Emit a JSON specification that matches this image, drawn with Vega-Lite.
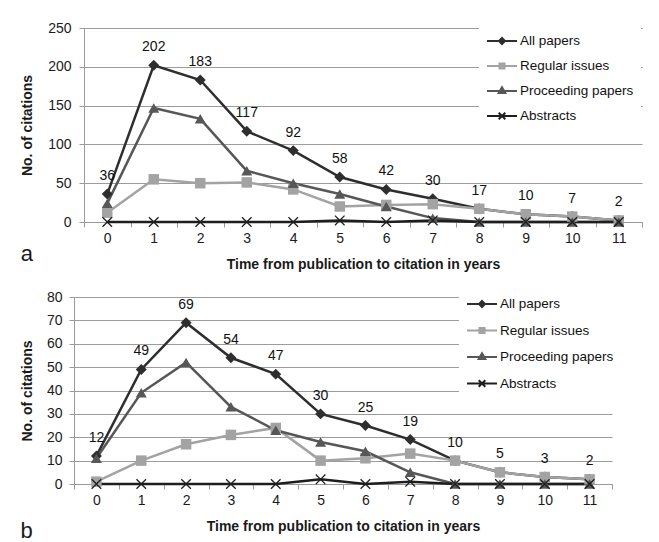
{
  "$schema": "https://vega.github.io/schema/vega-lite/v6.json",
  "padding": {"left": 20, "top": 18, "right": 0, "bottom": 0},
  "spacing": 10,
  "columns": 1,
  "align": "none",
  "background": "white",
  "resolve": {"scale": {"color": "independent"}, "legend": {"color": "independent"}},
  "config": {
    "font": "Liberation Sans",
    "view": {"stroke": null},
    "axis": {"labelFont": "Liberation Sans", "titleFont": "Liberation Sans", "labelFontSize": 14, "titleFontSize": 14, "labelColor": "#1a1a1a", "titleColor": "#1a1a1a", "titleFontWeight": "bold", "domainColor": "#9a9a9a", "tickColor": "#9a9a9a", "gridColor": "#9c9c9c", "tickSize": 5},
    "legend": {"labelFont": "Liberation Sans"}
  },
  "datasets": {
    "a": [
      {"year": 0, "series": "All papers", "citations": 36},
      {"year": 1, "series": "All papers", "citations": 202},
      {"year": 2, "series": "All papers", "citations": 183},
      {"year": 3, "series": "All papers", "citations": 117},
      {"year": 4, "series": "All papers", "citations": 92},
      {"year": 5, "series": "All papers", "citations": 58},
      {"year": 6, "series": "All papers", "citations": 42},
      {"year": 7, "series": "All papers", "citations": 30},
      {"year": 8, "series": "All papers", "citations": 17},
      {"year": 9, "series": "All papers", "citations": 10},
      {"year": 10, "series": "All papers", "citations": 7},
      {"year": 11, "series": "All papers", "citations": 2},
      {"year": 0, "series": "Regular issues", "citations": 12},
      {"year": 1, "series": "Regular issues", "citations": 55},
      {"year": 2, "series": "Regular issues", "citations": 50},
      {"year": 3, "series": "Regular issues", "citations": 51},
      {"year": 4, "series": "Regular issues", "citations": 42},
      {"year": 5, "series": "Regular issues", "citations": 20},
      {"year": 6, "series": "Regular issues", "citations": 22},
      {"year": 7, "series": "Regular issues", "citations": 23},
      {"year": 8, "series": "Regular issues", "citations": 17},
      {"year": 9, "series": "Regular issues", "citations": 10},
      {"year": 10, "series": "Regular issues", "citations": 7},
      {"year": 11, "series": "Regular issues", "citations": 2},
      {"year": 0, "series": "Proceeding papers", "citations": 24},
      {"year": 1, "series": "Proceeding papers", "citations": 147},
      {"year": 2, "series": "Proceeding papers", "citations": 133},
      {"year": 3, "series": "Proceeding papers", "citations": 66},
      {"year": 4, "series": "Proceeding papers", "citations": 50},
      {"year": 5, "series": "Proceeding papers", "citations": 36},
      {"year": 6, "series": "Proceeding papers", "citations": 20},
      {"year": 7, "series": "Proceeding papers", "citations": 5},
      {"year": 8, "series": "Proceeding papers", "citations": 0},
      {"year": 9, "series": "Proceeding papers", "citations": 0},
      {"year": 10, "series": "Proceeding papers", "citations": 0},
      {"year": 11, "series": "Proceeding papers", "citations": 0},
      {"year": 0, "series": "Abstracts", "citations": 0},
      {"year": 1, "series": "Abstracts", "citations": 0},
      {"year": 2, "series": "Abstracts", "citations": 0},
      {"year": 3, "series": "Abstracts", "citations": 0},
      {"year": 4, "series": "Abstracts", "citations": 0},
      {"year": 5, "series": "Abstracts", "citations": 2},
      {"year": 6, "series": "Abstracts", "citations": 0},
      {"year": 7, "series": "Abstracts", "citations": 2},
      {"year": 8, "series": "Abstracts", "citations": 0},
      {"year": 9, "series": "Abstracts", "citations": 0},
      {"year": 10, "series": "Abstracts", "citations": 0},
      {"year": 11, "series": "Abstracts", "citations": 0}
    ],
    "b": [
      {"year": 0, "series": "All papers", "citations": 12},
      {"year": 1, "series": "All papers", "citations": 49},
      {"year": 2, "series": "All papers", "citations": 69},
      {"year": 3, "series": "All papers", "citations": 54},
      {"year": 4, "series": "All papers", "citations": 47},
      {"year": 5, "series": "All papers", "citations": 30},
      {"year": 6, "series": "All papers", "citations": 25},
      {"year": 7, "series": "All papers", "citations": 19},
      {"year": 8, "series": "All papers", "citations": 10},
      {"year": 9, "series": "All papers", "citations": 5},
      {"year": 10, "series": "All papers", "citations": 3},
      {"year": 11, "series": "All papers", "citations": 2},
      {"year": 0, "series": "Regular issues", "citations": 1},
      {"year": 1, "series": "Regular issues", "citations": 10},
      {"year": 2, "series": "Regular issues", "citations": 17},
      {"year": 3, "series": "Regular issues", "citations": 21},
      {"year": 4, "series": "Regular issues", "citations": 24},
      {"year": 5, "series": "Regular issues", "citations": 10},
      {"year": 6, "series": "Regular issues", "citations": 11},
      {"year": 7, "series": "Regular issues", "citations": 13},
      {"year": 8, "series": "Regular issues", "citations": 10},
      {"year": 9, "series": "Regular issues", "citations": 5},
      {"year": 10, "series": "Regular issues", "citations": 3},
      {"year": 11, "series": "Regular issues", "citations": 2},
      {"year": 0, "series": "Proceeding papers", "citations": 11},
      {"year": 1, "series": "Proceeding papers", "citations": 39},
      {"year": 2, "series": "Proceeding papers", "citations": 52},
      {"year": 3, "series": "Proceeding papers", "citations": 33},
      {"year": 4, "series": "Proceeding papers", "citations": 23},
      {"year": 5, "series": "Proceeding papers", "citations": 18},
      {"year": 6, "series": "Proceeding papers", "citations": 14},
      {"year": 7, "series": "Proceeding papers", "citations": 5},
      {"year": 8, "series": "Proceeding papers", "citations": 0},
      {"year": 9, "series": "Proceeding papers", "citations": 0},
      {"year": 10, "series": "Proceeding papers", "citations": 0},
      {"year": 11, "series": "Proceeding papers", "citations": 0},
      {"year": 0, "series": "Abstracts", "citations": 0},
      {"year": 1, "series": "Abstracts", "citations": 0},
      {"year": 2, "series": "Abstracts", "citations": 0},
      {"year": 3, "series": "Abstracts", "citations": 0},
      {"year": 4, "series": "Abstracts", "citations": 0},
      {"year": 5, "series": "Abstracts", "citations": 2},
      {"year": 6, "series": "Abstracts", "citations": 0},
      {"year": 7, "series": "Abstracts", "citations": 1},
      {"year": 8, "series": "Abstracts", "citations": 0},
      {"year": 9, "series": "Abstracts", "citations": 0},
      {"year": 10, "series": "Abstracts", "citations": 0},
      {"year": 11, "series": "Abstracts", "citations": 0}
    ]
  },
  "concat": [
    {
      "width": 558,
      "height": 194,
      "data": {"name": "a"},
      "title": {"text": "a", "orient": "bottom", "anchor": "start", "frame": "bounds", "fontSize": 22, "fontWeight": "normal", "color": "#1a1a1a", "dx": 0, "dy": -27, "offset": 0},
      "encoding": {
        "x": {"field": "year", "type": "ordinal", "scale": {"type": "band", "paddingInner": 0, "paddingOuter": 0},
              "axis": {"title": "Time from publication to citation in years", "labelAngle": 0, "tickBand": "extent", "grid": false, "labelPadding": 4, "titlePadding": 12}},
        "y": {"field": "citations", "type": "quantitative", "scale": {"domain": [0, 250]},
              "axis": {"title": "No. of citations", "values": [0, 50, 100, 150, 200, 250], "grid": true, "labelPadding": 8, "titlePadding": 13}}
      },
      "layer": [
        {"mark": {"type": "line", "strokeWidth": 2.5},
         "encoding": {"color": {"field": "series", "type": "nominal",
           "scale": {"domain": ["All papers", "Regular issues", "Proceeding papers", "Abstracts"], "range": ["#2e2e2e", "#a3a3a3", "#575757", "#1e1e1e"]},
           "legend": {"orient": "none", "legendX": 395, "legendY": -10, "title": null, "fillColor": "white", "padding": 7, "symbolSize": 900, "labelFontSize": 13.5, "labelColor": "#111111", "labelOffset": 2, "rowPadding": 2,
             "encode": {"symbols": {"update": {
               "shape": {"signal": "datum.value === 'All papers' ? 'M-1,0H1M0,-0.2L0.2,0L0,0.2L-0.2,0Z' : datum.value === 'Regular issues' ? 'M-1,0H1M-0.17,-0.17H0.17V0.17H-0.17Z' : datum.value === 'Proceeding papers' ? 'M-1,0H1M0,-0.25L0.22,0.13H-0.22Z' : 'M-1,0H1M-0.22,-0.22L0.22,0.22M-0.22,0.22L0.22,-0.22'"},
               "fill": {"signal": "datum.value === 'All papers' ? '#2e2e2e' : datum.value === 'Regular issues' ? '#a3a3a3' : datum.value === 'Proceeding papers' ? '#575757' : '#1e1e1e'"},
               "stroke": {"signal": "datum.value === 'All papers' ? '#2e2e2e' : datum.value === 'Regular issues' ? '#a3a3a3' : datum.value === 'Proceeding papers' ? '#575757' : '#1e1e1e'"},
               "strokeWidth": {"value": 2},
               "size": {"value": 900},
               "opacity": {"value": 1},
               "fillOpacity": {"value": 1},
               "strokeOpacity": {"value": 1}}}}}}}},
        {"transform": [{"filter": "datum.series === 'All papers'"}],
         "mark": {"type": "point", "filled": true, "opacity": 1, "shape": "diamond", "size": 120, "color": "#2e2e2e"}},
        {"transform": [{"filter": "datum.series === 'Regular issues'"}],
         "mark": {"type": "point", "filled": true, "opacity": 1, "shape": "square", "size": 110, "color": "#a3a3a3"}},
        {"transform": [{"filter": "datum.series === 'Proceeding papers'"}],
         "mark": {"type": "point", "filled": true, "opacity": 1, "shape": "triangle-up", "size": 120, "color": "#575757"}},
        {"transform": [{"filter": "datum.series === 'Abstracts'"}],
         "mark": {"type": "point", "filled": true, "opacity": 1, "shape": "M-1,-0.83L-0.83,-1L0,-0.17L0.83,-1L1,-0.83L0.17,0L1,0.83L0.83,1L0,0.17L-0.83,1L-1,0.83L-0.17,0Z", "size": 110, "color": "#1e1e1e"}},
        {"transform": [{"filter": "datum.series === 'All papers'"}],
         "mark": {"type": "text", "dy": -18, "fontSize": 14, "color": "#111111"},
         "encoding": {"text": {"field": "citations", "type": "quantitative"}}}
      ]
    },
    {
      "width": 538,
      "height": 187,
      "data": {"name": "b"},
      "title": {"text": "b", "orient": "bottom", "anchor": "start", "frame": "bounds", "fontSize": 22, "fontWeight": "normal", "color": "#1a1a1a", "dx": 0, "dy": -12, "offset": 0},
      "encoding": {
        "x": {"field": "year", "type": "ordinal", "scale": {"type": "band", "paddingInner": 0, "paddingOuter": 0, "range": [-10, 528]},
              "axis": {"title": "Time from publication to citation in years", "labelAngle": 0, "tickBand": "extent", "grid": false, "labelPadding": 4, "titlePadding": 12}},
        "y": {"field": "citations", "type": "quantitative", "scale": {"domain": [0, 80]},
              "axis": {"title": "No. of citations", "values": [0, 10, 20, 30, 40, 50, 60, 70, 80], "grid": true, "labelPadding": 7, "titlePadding": 12, "offset": 10}}
      },
      "layer": [
        {"mark": {"type": "line", "strokeWidth": 2.5},
         "encoding": {"color": {"field": "series", "type": "nominal",
           "scale": {"domain": ["All papers", "Regular issues", "Proceeding papers", "Abstracts"], "range": ["#2e2e2e", "#a3a3a3", "#575757", "#1e1e1e"]},
           "legend": {"orient": "none", "legendX": 375, "legendY": -16, "title": null, "fillColor": "white", "padding": 7, "symbolSize": 900, "labelFontSize": 13.5, "labelColor": "#111111", "labelOffset": 2, "rowPadding": 3.5,
             "encode": {"symbols": {"update": {
               "shape": {"signal": "datum.value === 'All papers' ? 'M-1,0H1M0,-0.2L0.2,0L0,0.2L-0.2,0Z' : datum.value === 'Regular issues' ? 'M-1,0H1M-0.17,-0.17H0.17V0.17H-0.17Z' : datum.value === 'Proceeding papers' ? 'M-1,0H1M0,-0.25L0.22,0.13H-0.22Z' : 'M-1,0H1M-0.22,-0.22L0.22,0.22M-0.22,0.22L0.22,-0.22'"},
               "fill": {"signal": "datum.value === 'All papers' ? '#2e2e2e' : datum.value === 'Regular issues' ? '#a3a3a3' : datum.value === 'Proceeding papers' ? '#575757' : '#1e1e1e'"},
               "stroke": {"signal": "datum.value === 'All papers' ? '#2e2e2e' : datum.value === 'Regular issues' ? '#a3a3a3' : datum.value === 'Proceeding papers' ? '#575757' : '#1e1e1e'"},
               "strokeWidth": {"value": 2},
               "size": {"value": 900},
               "opacity": {"value": 1},
               "fillOpacity": {"value": 1},
               "strokeOpacity": {"value": 1}}}}}}}},
        {"transform": [{"filter": "datum.series === 'All papers'"}],
         "mark": {"type": "point", "filled": true, "opacity": 1, "shape": "diamond", "size": 120, "color": "#2e2e2e"}},
        {"transform": [{"filter": "datum.series === 'Regular issues'"}],
         "mark": {"type": "point", "filled": true, "opacity": 1, "shape": "square", "size": 110, "color": "#a3a3a3"}},
        {"transform": [{"filter": "datum.series === 'Proceeding papers'"}],
         "mark": {"type": "point", "filled": true, "opacity": 1, "shape": "triangle-up", "size": 120, "color": "#575757"}},
        {"transform": [{"filter": "datum.series === 'Abstracts'"}],
         "mark": {"type": "point", "filled": true, "opacity": 1, "shape": "M-1,-0.83L-0.83,-1L0,-0.17L0.83,-1L1,-0.83L0.17,0L1,0.83L0.83,1L0,0.17L-0.83,1L-1,0.83L-0.17,0Z", "size": 110, "color": "#1e1e1e"}},
        {"transform": [{"filter": "datum.series === 'All papers'"}],
         "mark": {"type": "text", "dy": -18, "fontSize": 14, "color": "#111111"},
         "encoding": {"text": {"field": "citations", "type": "quantitative"}}}
      ]
    }
  ]
}
